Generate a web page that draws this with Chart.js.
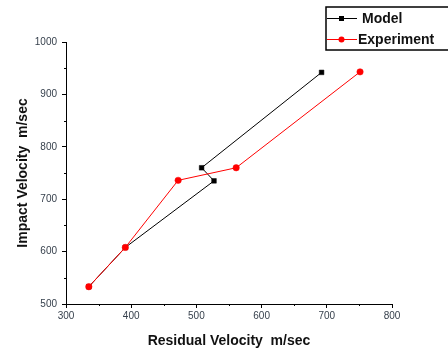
<!DOCTYPE html>
<html>
<head>
<meta charset="utf-8">
<script src="https://cdn.jsdelivr.net/npm/chart.js@4/dist/chart.umd.min.js"></script>
<style>
	html, body { margin: 0; padding: 0; background: #fff; }
	#wrap { width: 448px; height: 353px; position: relative; }
</style>
</head>
<body>
<div id="wrap"><canvas id="velocity"></canvas></div>
<script>
// residual velocity (x) vs impact velocity (y), m/sec
var model_x = [335, 391, 527, 508, 692];
var model_y = [533, 608, 735, 760, 942];
var exp_x = [335, 391, 472, 561, 751];
var exp_y = [533, 608, 736, 760, 943];

var x_ticks = [300, 400, 500, 600, 700, 800];
var y_ticks = [500, 600, 700, 800, 900, 1000];
var x_minor = [350, 450, 550, 650, 750];
var y_minor = [550, 650, 750, 850, 950];

var tick_font = { family: 'Arial, "Liberation Sans", sans-serif', size: 10 };
var title_font = { family: 'Arial, "Liberation Sans", sans-serif', size: 14, weight: 'bold' };

function points(xs, ys) {
	var out = [];
	for (let i = 0; i < xs.length; i++) {
		out.push({ x: xs[i], y: ys[i] });
	}
	return out;
}

// little ticks between the labelled ones
var minor_ticks = {
	id: 'minor_ticks',
	afterDraw: function (chart) {
		var ctx = chart.ctx;
		var area = chart.chartArea;
		ctx.save();
		ctx.strokeStyle = '#000';
		ctx.lineWidth = 1;
		ctx.beginPath();
		for (let v of x_minor) {
			var px = Math.round(chart.scales.x.getPixelForValue(v)) + 0.5;
			ctx.moveTo(px, area.bottom);
			ctx.lineTo(px, area.bottom + 2);
		}
		for (let v of y_minor) {
			var py = Math.round(chart.scales.y.getPixelForValue(v)) + 0.5;
			ctx.moveTo(area.left, py);
			ctx.lineTo(area.left - 2, py);
		}
		ctx.stroke();
		ctx.restore();
	}
};

// boxed legend up in the corner, like the original plot
var box_legend = {
	id: 'box_legend',
	afterDraw: function (chart) {
		var ctx = chart.ctx;
		var left = 326, top = 7, width = 130, height = 43;
		ctx.save();
		ctx.fillStyle = '#fff';
		ctx.fillRect(left, top, width, height);
		ctx.strokeStyle = '#000';
		ctx.lineWidth = 1.5;
		ctx.strokeRect(left, top, width, height);

		var rows = [18, 39];
		chart.data.datasets.forEach(function (ds, i) {
			var y = rows[i];
			ctx.strokeStyle = ds.borderColor;
			ctx.lineWidth = 1;
			ctx.beginPath();
			ctx.moveTo(left + 1, y + 0.5);
			ctx.lineTo(left + 31, y + 0.5);
			ctx.stroke();
			ctx.fillStyle = ds.pointBackgroundColor;
			if (ds.pointStyle == 'rect') {
				ctx.fillRect(left + 13, y - 2, 5, 5);
			} else {
				ctx.beginPath();
				ctx.arc(left + 15.5, y + 0.5, 3, 0, Math.PI * 2);
				ctx.fill();
			}
			ctx.fillStyle = '#111';
			ctx.font = 'bold 14px Arial, "Liberation Sans", sans-serif';
			ctx.textBaseline = 'middle';
			ctx.fillText(ds.label, left + (i == 0 ? 36 : 32), y + 1);
		});
		ctx.restore();
	}
};

window.onload = function () {
	var ctx = document.getElementById('velocity').getContext('2d');

	var chart = new Chart(ctx, {
		type: 'line',
		data: {
			datasets: [{
				label: 'Model',
				data: points(model_x, model_y),
				borderColor: '#000',
				backgroundColor: '#000',
				pointBackgroundColor: '#000',
				pointBorderColor: '#000',
				pointStyle: 'rect',
				pointRadius: 3.3,
				pointBorderWidth: 0.5,
				borderWidth: 1,
				order: 1
			}, {
				label: 'Experiment',
				data: points(exp_x, exp_y),
				borderColor: '#ff0000',
				backgroundColor: '#ff0000',
				pointBackgroundColor: '#ff0000',
				pointBorderColor: '#ff0000',
				pointStyle: 'circle',
				pointRadius: 3.2,
				pointBorderWidth: 0.5,
				borderWidth: 1,
				order: 0
			}]
		},
		options: {
			responsive: true,
			maintainAspectRatio: false,
			animation: false,
			layout: {
				padding: { top: 42, right: 56, left: 8, bottom: 0 }
			},
			plugins: {
				legend: { display: false },
				tooltip: { enabled: false }
			},
			scales: {
				x: {
					type: 'linear',
					min: 300,
					max: 800,
					afterBuildTicks: function (scale) {
						scale.ticks = x_ticks.map(v => ({ value: v }));
					},
					afterFit: function (scale) {
						scale.height = 49;
					},
					grid: {
						drawOnChartArea: false,
						drawTicks: true,
						tickLength: 4,
						color: '#000'
					},
					border: { display: true, color: '#000', width: 1 },
					ticks: {
						font: tick_font,
						color: '#37414d',
						padding: 2,
						maxRotation: 0,
						callback: function (v) { return String(v); }
					},
					title: {
						display: true,
						text: 'Residual Velocity  m/sec',
						font: title_font,
						color: '#111',
						padding: { top: 8, bottom: 3 }
					}
				},
				y: {
					type: 'linear',
					min: 500,
					max: 1000,
					afterBuildTicks: function (scale) {
						scale.ticks = y_ticks.map(v => ({ value: v }));
					},
					afterFit: function (scale) {
						scale.width = 58;
					},
					grid: {
						drawOnChartArea: false,
						drawTicks: true,
						tickLength: 4,
						color: '#000'
					},
					border: { display: true, color: '#000', width: 1 },
					ticks: {
						font: tick_font,
						color: '#37414d',
						padding: 5,
						callback: function (v) { return String(v); }
					},
					title: {
						display: true,
						text: 'Impact Velocity  m/sec',
						font: title_font,
						color: '#111',
						padding: { top: 7, bottom: 4 }
					}
				}
			}
		},
		plugins: [minor_ticks, box_legend]
	});
};
</script>
</body>
</html>
